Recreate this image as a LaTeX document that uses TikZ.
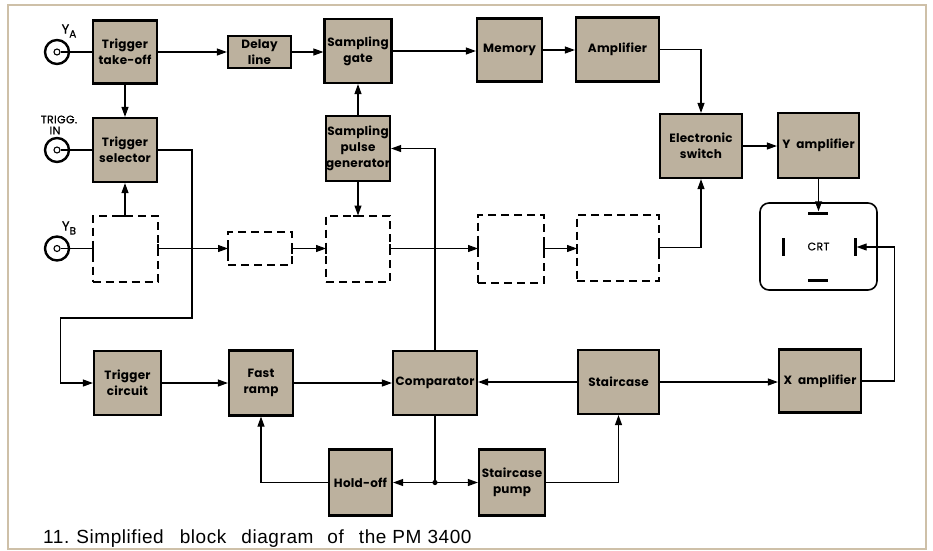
\documentclass[tikz,border=0pt]{standalone}
\usepackage{fontspec}
\usetikzlibrary{arrows.meta}
\setmainfont{Liberation Sans}
\newfontfamily\bxf{Poppins}[LetterSpace=2]
\newfontfamily\lbf{Poppins}[LetterSpace=3, FakeBold=0.6]
\newfontfamily\capf{Liberation Sans}[LetterSpace=3]
\definecolor{boxfill}{RGB}{188,177,158}
\definecolor{framecol}{RGB}{206,192,168}
\newcommand\mytickv[1]{\draw[tickln] ([yshift=-5pt]#1) -- ([yshift=5pt]#1);}
\newcommand\mytickh[1]{\draw[tickln] ([xshift=-5pt]#1) -- ([xshift=5pt]#1);}
\begin{document}
\begin{tikzpicture}[x=1pt,y=-1pt,
 blk/.style={draw=black, line width=2.2pt, fill=boxfill, inner sep=0pt, align=center,
   font=\bxf\bfseries\fontsize{12}{16}\selectfont},
 dbox/.style={draw=black, line width=2pt, dash pattern=on 8pt off 5pt, inner sep=0pt, outer sep=0pt},
 conn/.style={line width=1.1pt},
 arr/.style={conn, -{Triangle[length=10pt,width=7pt]}},
 tickln/.style={line width=2pt},
 coax/.style={circle, draw, line width=2.4pt, minimum size=24pt, inner sep=0pt},
 coaxin/.style={circle, draw, line width=1.1pt, minimum size=6pt, inner sep=0pt, fill=white},
 lbl/.style={font=\lbf\fontsize{11}{11}\selectfont, inner sep=0pt},
 plate/.style={fill=black, inner sep=0pt},
]
\useasboundingbox (0,0) rectangle (933,550);
\draw[framecol, line width=2pt] (8,5) rectangle (926,549);

% solid blocks
\node[blk, minimum width=64pt, minimum height=63pt] (tto) at (125,52) {Trigger\\take-off};
\node[blk, minimum width=63pt, minimum height=32pt] (delay) at (259.5,52) {Delay\\line};
\node[blk, minimum width=67pt, minimum height=64pt] (sgate) at (358,51) {Sampling\\gate};
\node[blk, minimum width=65pt, minimum height=63pt] (mem) at (509.5,50) {Memory};
\node[blk, minimum width=83pt, minimum height=64pt] (amp) at (617.5,49.5) {Amplifier};
\node[blk, minimum width=64pt, minimum height=64pt] (tsel) at (125,150) {Trigger\\selector};
\node[blk, minimum width=64pt, minimum height=65pt] (spg) at (358,148.5) {Sampling\\pulse\\generator};
\node[blk, minimum width=82pt, minimum height=64pt] (esw) at (701,146) {Electronic\\switch};
\node[blk, minimum width=81pt, minimum height=65pt] (yamp) at (818.5,145.5) {Y\hspace{6pt}amplifier};
\node[blk, minimum width=67pt, minimum height=64pt] (tcirc) at (127.5,383) {Trigger\\circuit};
\node[blk, minimum width=64pt, minimum height=65pt] (framp) at (261,383) {Fast\\ramp};
\node[blk, minimum width=84pt, minimum height=64pt] (comp) at (435,383) {Comparator};
\node[blk, minimum width=81pt, minimum height=64pt] (stair) at (618.5,382) {Staircase};
\node[blk, minimum width=82pt, minimum height=63pt] (xamp) at (820,381) {X\hspace{6pt}amplifier};
\node[blk, minimum width=63pt, minimum height=66pt] (hold) at (360.5,482.5) {Hold-off};
\node[blk, minimum width=66pt, minimum height=66pt] (spump) at (512,482.5) {Staircase\\pump};

% dashed blocks
\node[dbox, minimum width=65pt, minimum height=66pt] (b1) at (125,248.5) {};
\node[dbox, minimum width=64pt, minimum height=33pt] (b2) at (260,248.5) {};
\node[dbox, minimum width=64pt, minimum height=66pt] (b3) at (358,248.5) {};
\node[dbox, minimum width=66pt, minimum height=68pt] (b4) at (511,248.5) {};
\node[dbox, minimum width=82pt, minimum height=66pt] (b5) at (618,247.5) {};

% coax inputs
\node[coax] (ya) at (57,52) {};
\node[coaxin] (yai) at (57,52) {};
\node[coax] (ti) at (57,150) {};
\node[coaxin] (tii) at (57,150) {};
\node[coax] (yb) at (57,248.5) {};
\node[coaxin] (ybi) at (57,248.5) {};
\node[lbl, font=\lbf\fontsize{13}{13}\selectfont] (lya) at (69,31) {Y\raisebox{-4pt}{\fontsize{10.5}{11}\selectfont A}};
\node[lbl, align=center] (lti) at (59,125) {TRIGG.\\\hspace*{-8pt}IN};
\node[lbl, font=\lbf\fontsize{13}{13}\selectfont] (lyb) at (69,228) {Y\raisebox{-4pt}{\fontsize{10.5}{11}\selectfont B}};

% CRT
\node[draw, line width=1.6pt, rounded corners=9pt, minimum width=117pt, minimum height=87pt,
  font=\lbf\fontsize{11}{11}\selectfont] (crt) at (818.5,246.5) {\raisebox{-3pt}{CRT}};
\node[plate, minimum width=20pt, minimum height=3pt] (ptop) at (818,213) {};
\node[plate, minimum width=20pt, minimum height=3pt] (pbot) at (818,280) {};
\node[plate, minimum width=3pt, minimum height=18pt] (pleft) at (783,247) {};
\node[plate, minimum width=3pt, minimum height=18pt] (pright) at (855,247) {};

% connectors, top
\draw[conn] (yai.east) -- (tto.west);
\draw[arr] (tto.east) -- (delay.west);
\draw[arr] (delay.east) -- (delay.east -| sgate.west);
\draw[arr] (sgate.east) -- (sgate.east -| mem.west);
\draw[arr] (mem.east) -- (mem.east -| amp.west);
\draw[arr] (amp.east) -| (esw.north);
\draw[arr] (tto.south) -- (tsel.north);
\draw[conn] (tii.east) -- (tsel.west);
\draw[arr] (tsel.east) -| (192,318) -| ([xshift=-32pt]tcirc.west) -- (tcirc.west);
\draw[arr] (spg.north) -- (sgate.south);
\draw[arr] (esw.east) -- (esw.east -| yamp.west);
\draw[arr] (yamp.south) -- (yamp.south |- ptop.north);
\draw[arr] (xamp.east) -| ([xshift=38pt]pright.east) -- (pright.east);

% dashed path
\draw[conn] (ybi.east) -- (b1.west);
\draw[arr] (b1.north) -- (tsel.south);
\draw[arr] (b1.east) -- (b2.west);
\draw[arr] (b2.east) -- (b3.west);
\draw[arr] (spg.south) -- (b3.north);
\draw[arr] (b3.east) -- (b4.west);
\coordinate (t5) at (b4.east -| b5.west);
\draw[arr] (b4.east) -- (t5);
\coordinate (t5o) at (b5.east);
\draw[arr] (b5.east) -| (esw.south);
\mytickv{b1.west}
\mytickh{b1.north}
\mytickv{b1.east}
\mytickv{b2.west}
\mytickv{b2.east}
\mytickv{b3.west}
\mytickh{b3.north}
\mytickv{b3.east}
\mytickv{b4.west}
\mytickv{b4.east}
\mytickv{t5}
\mytickv{t5o}

% connectors, bottom
\draw[arr] (tcirc.east) -- (tcirc.east -| framp.west);
\draw[arr] (framp.east) -- (framp.east -| comp.west);
\draw[arr] (stair.west) -- (stair.west -| comp.east);
\draw[arr] (stair.east) -- (stair.east -| xamp.west);
\draw[arr] (comp.north) |- (spg.east);
\coordinate (jn) at (comp.south |- hold.east);
\draw[conn] (comp.south) -- (jn);
\fill (jn) circle (2.6pt);
\draw[arr] (jn) -- (hold.east);
\draw[arr] (jn) -- (spump.west);
\draw[arr] (hold.west) -| (framp.south);
\draw[arr] (spump.east) -| (stair.south);

% caption
\node[anchor=base west, inner sep=0pt, font=\capf\fontsize{19}{20}\selectfont] (cap) at (43,543)
 {11.\hspace{7pt}Simplified\hspace{16pt}block\hspace{15pt}diagram\hspace{14pt}of\hspace{15pt}the\hspace{6pt}PM\hspace{6pt}3400};
\end{tikzpicture}
\end{document}
